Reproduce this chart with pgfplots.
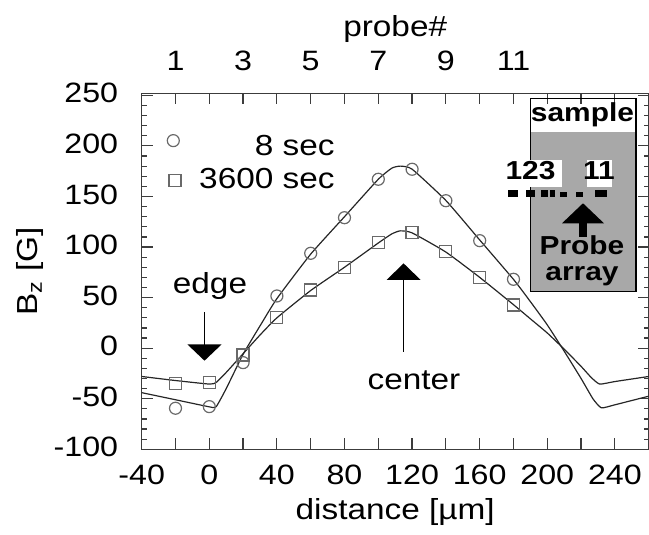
\documentclass[border=0pt]{standalone}
\usepackage{pgfplots}
\pgfplotsset{compat=1.18}
\usepackage{fontspec}
\setmainfont[FakeStretch=1.15]{Liberation Sans}
\definecolor{insetgray}{RGB}{168,168,168}
\definecolor{axgray}{RGB}{60,60,60}
\definecolor{markgray}{RGB}{105,105,105}
\newcommand{\labfont}{\fontsize{14.5}{17}\selectfont}
\newcommand{\tickfont}{\fontsize{14}{16}\selectfont}
\newcommand{\boldfont}{\fontsize{13}{15}\selectfont\bfseries}

\begin{document}
\begin{tikzpicture}
\useasboundingbox (0,0) rectangle (324.5pt,-267.5pt);
\begin{axis}[
  at={(70.85pt,-224.65pt)}, anchor=south west,
  scale only axis, width=253.5pt, height=178pt,
  xmin=-40, xmax=260, ymin=-100, ymax=252,
  xtick={-40,-20,...,260},
  xticklabels={-40,,0,,40,,80,,120,,160,,200,,240,,},
  ytick={-100,-50,...,250},
  yticklabels={-100,-50,0,50,100,150,200,250},
  minor y tick num=4,
  major tick length=5.5pt, minor tick length=2.5pt,
  tick align=inside,
  /pgf/number format/assume math mode=true,
  axis line style={axgray, line width=0.6pt},
  every tick/.append style={axgray, line width=0.6pt},
  tick label style={font=\tickfont},
  xticklabel style={anchor=north, inner sep=0pt, yshift=-7.8pt},
  yticklabel style={anchor=east, inner sep=0pt, xshift=-11.6pt, yshift=1pt},
  xlabel={distance [µm]},
  xlabel style={at={(axis description cs:0.5,0)}, anchor=base, inner sep=0pt, yshift=-35.3pt, font=\labfont},
  ylabel={B\textsubscript{z} [G]},
  ylabel style={at={(axis description cs:-0.2203,0.5)}, anchor=center, inner sep=0pt, font=\labfont},
]
% model curves
\addplot[black!85, line width=0.6pt, smooth, tension=0.3] coordinates {
(-40,-44) (-20,-51) (0,-58) (4,-58) (10,-40) (20,-6) (30,22) (40,49) (60,93) (80,130)
(100,167) (108,178) (113,180) (120,177) (140,146) (160,107) (180,68) (190,46) (200,23)
(210,-3) (220,-30) (227,-50) (232,-59) (240,-56) (260,-47.5)};
\addplot[black!85, line width=0.6pt, smooth, tension=0.3] coordinates {
(-40,-28) (-20,-32) (0,-35.5) (4,-34) (10,-24) (20,-5.5) (30,13) (40,30) (60,57) (80,80)
(100,104) (108,113) (113,116) (120,114) (140,95) (160,70) (180,43) (190,29) (200,15)
(210,-1) (220,-18) (226,-29) (231,-35.5) (240,-33) (260,-28)};
% measured data: 8 sec
\addplot[only marks, mark=o, mark size=3pt, markgray, mark options={line width=0.6pt}] coordinates {
(-20,-59.4) (0,-57.8) (20,-14.3) (40,51.6) (60,93.8) (80,129.0) (100,167.0) (120,176.9)
(140,145.8) (160,106.3) (180,68.1)};
% measured data: 3600 sec
\addplot[only marks, mark=square, mark size=3pt, markgray, mark options={line width=0.6pt}] coordinates {
(-20,-34.7) (0,-33.7) (20,-6.7) (40,30.6) (60,57.5) (80,79.6) (100,104.7) (120,114.6)
(140,95.4) (160,69.7) (180,42.7)};
% legend markers
\addplot[only marks, mark=o, mark size=3pt, markgray, mark options={line width=0.6pt}] coordinates {(-21.3,205.2)};
\addplot[only marks, mark=square, mark size=3pt, markgray, mark options={line width=0.6pt}] coordinates {(-20.3,165.6)};
\end{axis}
% top axis: probe numbers
\begin{axis}[
  at={(70.85pt,-224.65pt)}, anchor=south west,
  scale only axis, width=253.5pt, height=178pt,
  xmin=-40, xmax=260, ymin=-100, ymax=252,
  axis x line*=top, axis y line=none,
  x axis line style={draw=none},
  xtick={-20,20,60,100,140,180}, xticklabels={1,3,5,7,9,11},
  major tick length=0pt,
  xticklabel style={anchor=base, inner sep=0pt, yshift=11.3pt, font=\tickfont},
  xlabel={probe\#},
  xlabel style={at={(axis description cs:0.5,1)}, anchor=base, inner sep=0pt, yshift=28.3pt, font=\labfont},
]
\addplot[draw=none] coordinates {(0,0)};
\end{axis}
\begin{scope}[x=0.5pt,y=-0.5pt]
% legend text
\node[anchor=base east, inner sep=0pt, font=\labfont] at (335,155.7) {8 sec};
\node[anchor=base east, inner sep=0pt, font=\labfont] at (335,189) {3600 sec};
% edge annotation
\node[anchor=base, inner sep=0pt, font=\labfont] at (210,293) {edge};
\draw[line width=0.6pt] (204.5,312.3) -- (204.5,346);
\fill (187.3,344.3) -- (221.7,344.3) -- (204.5,360.7) -- cycle;
% center annotation
\node[anchor=base, inner sep=0pt, font=\labfont] at (414,389) {center};
\draw[line width=0.6pt] (403.3,351.7) -- (403.3,278);
\fill (386.7,280) -- (420.7,280) -- (403.5,263.3) -- cycle;
% inset
\fill[insetgray] (530.5,131.7) rectangle (636,291.7);
\draw[line width=0.6pt] (530.5,98.3) rectangle (636,291.7);
\node[anchor=base, inner sep=0pt, font=\boldfont] at (582.5,121.7) {sample};
\fill[white] (520,160) rectangle (561.7,187.3);
\fill[white] (586.7,160) rectangle (611.7,187.3);
\node[anchor=base, inner sep=0pt, font=\boldfont] at (530.5,180) {123};
\node[anchor=base, inner sep=0pt, font=\boldfont] at (599,180) {11};
\fill (508.3,190) rectangle (518.3,197);
\fill (526,190) rectangle (535,197);
\fill (540.7,190) rectangle (548,197);
\fill (549.5,190) rectangle (555,197);
\fill (560,192) rectangle (567,197);
\fill (576,192) rectangle (583,197);
\fill (595,190) rectangle (606.7,197);
\fill (562,223.3) -- (604,223.3) -- (583,203.3) -- cycle;
\fill (579,223) rectangle (587,237);
\node[anchor=base, inner sep=0pt, font=\boldfont] at (582,255) {Probe};
\node[anchor=base, inner sep=0pt, font=\boldfont] at (582,281) {array};
\end{scope}
\end{tikzpicture}
\end{document}
